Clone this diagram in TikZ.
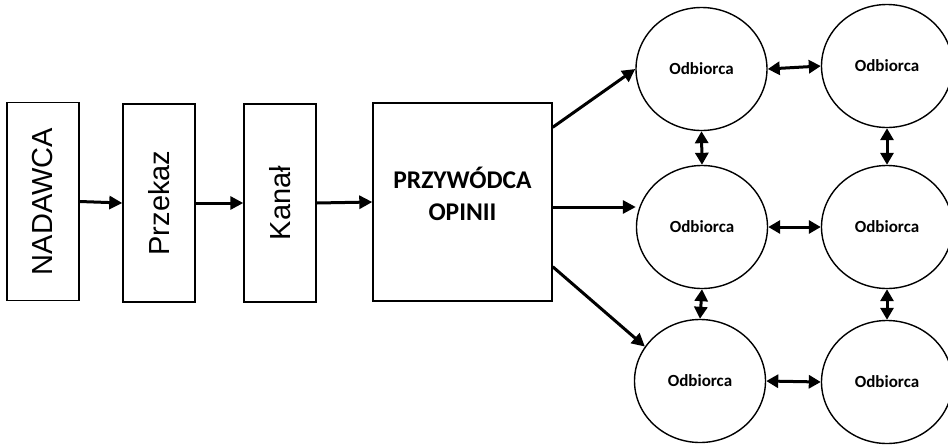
\documentclass[tikz,border=0pt]{standalone}
\usepackage{fontspec}
\newfontfamily\calibri{Carlito}
\newfontfamily\arial{Liberation Sans}
\usetikzlibrary{arrows.meta}
\usetikzlibrary{shapes.geometric}

\begin{document}
\begin{tikzpicture}[x=1pt,y=-1pt,
  box/.style={draw,line width=1.4pt,inner sep=0pt,minimum height=198pt},
  upright/.style={rotate=90,font=\arial\fontsize{29}{32}\selectfont},
  odb/.style={draw,ellipse,line width=1.4pt,minimum width=131pt,minimum height=123pt,inner sep=0pt,font=\calibri\bfseries\fontsize{17}{20}\selectfont},
  link/.style={line width=3pt,-{Triangle[length=13pt,width=13pt]}},
  twoway/.style={line width=3pt,{Triangle[length=12pt,width=13pt]}-{Triangle[length=12pt,width=13pt]}}]
  \useasboundingbox (0,0) rectangle (948,445);
  \node [box,minimum width=72pt] (nadawca) at (43,201.5) {};
  \node [upright] at (nadawca.center) {NADAWCA};
  \node [box,minimum width=72pt] (przekaz) at (159,203) {};
  \node [upright] at (przekaz.center) {Przekaz};
  \node [box,minimum width=72pt] (kanal) at (280,203) {};
  \node [upright] at (kanal.center) {Kanał};
  \node [box,minimum width=179pt] (lider) at (462.5,202) {};
  \node [align=center,font=\calibri\bfseries\fontsize{25.5}{32}\selectfont] (lidertxt) at ([yshift=8pt]lider.center) {PRZYWÓDCA\\OPINII};
  \node [odb] (o11) at (701.5,69) {Odbiorca};
  \node [odb] (o12) at (887,66) {Odbiorca};
  \node [odb] (o21) at (702,227) {Odbiorca};
  \node [odb] (o22) at (887,227) {Odbiorca};
  \node [odb] (o31) at (700,381) {Odbiorca};
  \node [odb] (o32) at (887,382) {Odbiorca};
  \draw [link] (nadawca.east) -- (przekaz.west);
  \draw [link] (przekaz.east) -- (kanal.west);
  \draw [link] (kanal.east) -- (lider.west);
  \draw [link] ([yshift=-25pt]lider.north east) -- (o11.west);
  \draw [link] ([yshift=-5pt]lider.east) -- ([yshift=-5pt]lider.east -| o21.west);
  \draw [link] ([yshift=35pt]lider.south east) -- (o31.148);
  \draw [twoway] (o11.east) -- (o12.west);
  \draw [twoway] (o21.east) -- (o22.west);
  \draw [twoway] (o31.east) -- (o32.west);
  \draw [twoway] (o11.south) -- (o21.north);
  \draw [twoway] (o21.south) -- (o31.north);
  \draw [twoway] (o12.south) -- (o22.north);
  \draw [twoway] (o22.south) -- (o32.north);
\end{tikzpicture}
\end{document}
